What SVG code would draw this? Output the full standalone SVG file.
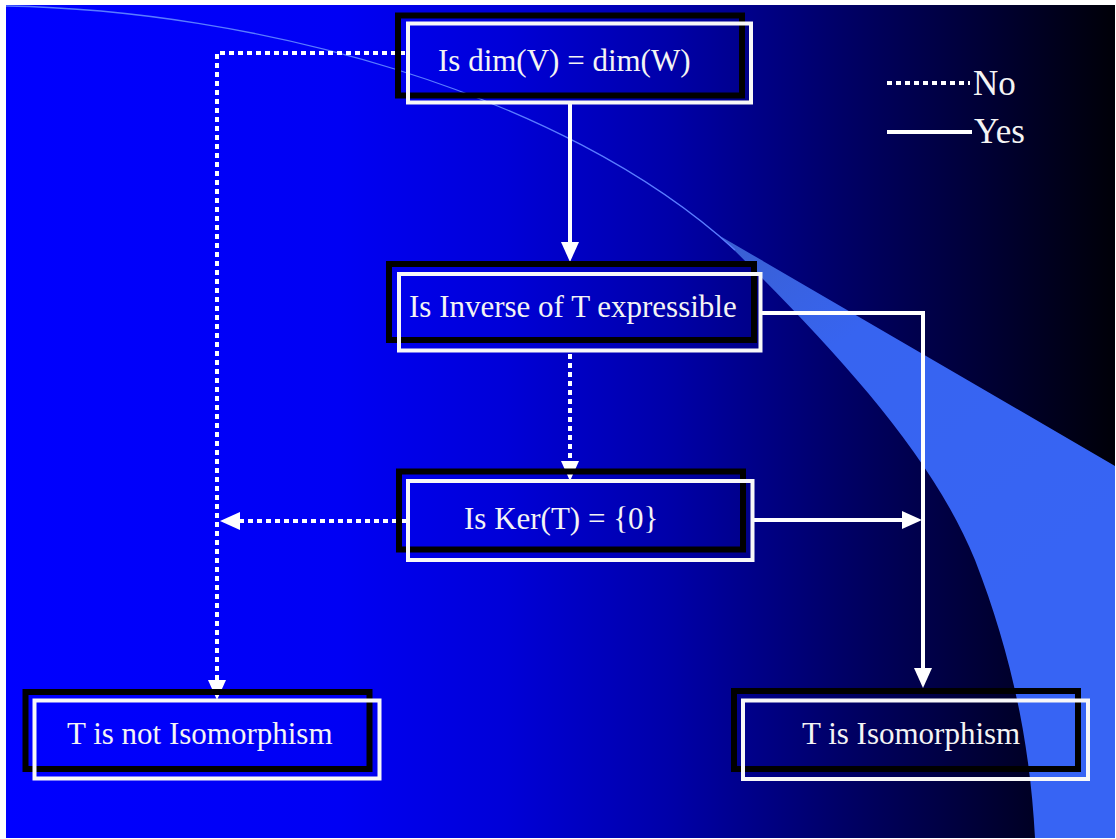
<svg xmlns="http://www.w3.org/2000/svg" width="1116" height="839" viewBox="0 0 1116 839">
  <defs>
    <linearGradient id="bg" gradientUnits="userSpaceOnUse" x1="6" y1="0" x2="1115" y2="0">
      <stop offset="0" stop-color="#0000ff"/>
      <stop offset="0.3" stop-color="#0000f4"/>
      <stop offset="0.45" stop-color="#0000d8"/>
      <stop offset="0.6" stop-color="#0000a8"/>
      <stop offset="0.75" stop-color="#000068"/>
      <stop offset="0.88" stop-color="#000036"/>
      <stop offset="1" stop-color="#000008"/>
    </linearGradient>
    <linearGradient id="wedge" gradientUnits="userSpaceOnUse" x1="715" y1="235" x2="1000" y2="600">
      <stop offset="0" stop-color="#3a5fd0"/>
      <stop offset="0.35" stop-color="#3764f0"/>
      <stop offset="1" stop-color="#3764f4"/>
    </linearGradient>
    <marker id="ah" viewBox="0 0 20 18" refX="0" refY="9" markerWidth="20" markerHeight="18" markerUnits="userSpaceOnUse" orient="auto">
      <path d="M0,0 L20,9 L0,18 Z" fill="#ffffff"/>
    </marker>
    <style>
      .shadow { fill: none; stroke: #000000; stroke-width: 6; }
      .frame { fill: none; stroke: #f8f8f8; stroke-width: 4; }
      .lbl { font-family: "Liberation Serif", "Times New Roman", serif; font-size: 31px; fill: #f4f4f4; }
      .leg { font-family: "Liberation Serif", "Times New Roman", serif; font-size: 35px; fill: #f4f4f4; }
      .solid { fill: none; stroke: #ffffff; stroke-width: 4; }
      .dot { fill: none; stroke: #ffffff; stroke-width: 4; stroke-dasharray: 5 4; }
    </style>
  </defs>

  <g id="background">
    <rect x="0" y="0" width="1116" height="839" fill="#ffffff"/>
    <rect x="6" y="5" width="1109" height="833" fill="url(#bg)"/>
    <path d="M720,236 C830,345 930,450 975,560 C1010,650 1030,740 1035,838 L1115,838 L1115,466 Z" fill="url(#wedge)"/>
    <path d="M6,6 C250,10 560,90 735,250" fill="none" stroke="#5a7cff" stroke-width="1.3"/>
  </g>

  <g id="connectors">
    <path class="solid" d="M570,103 V242" marker-end="url(#ah)"/>
    <path class="dot" d="M405,53 H217 V680" marker-end="url(#ah)"/>
    <path class="dot" d="M570,354 V461" marker-end="url(#ah)"/>
    <path class="dot" d="M406,521 H240" marker-end="url(#ah)"/>
    <path class="solid" d="M754,520 H902" marker-end="url(#ah)"/>
    <path class="solid" d="M762,313 H923 V668" marker-end="url(#ah)"/>
  </g>

  <g id="legend">
    <path class="dot" d="M887,83 H970"/>
    <text class="leg" x="973" y="95">No</text>
    <path class="solid" d="M887,132 H972"/>
    <text class="leg" x="974" y="143">Yes</text>
  </g>

  <g id="node-dim">
    <rect class="shadow" x="398" y="15.5" width="344" height="80"/>
    <rect class="frame" x="408" y="23.5" width="343" height="79"/>
    <text class="lbl" x="438" y="71">Is dim(V) = dim(W)</text>
  </g>

  <g id="node-inverse">
    <rect class="shadow" x="389" y="264" width="365" height="76"/>
    <rect class="frame" x="399" y="274" width="361.5" height="76.5"/>
    <text class="lbl" x="409" y="317">Is Inverse of T expressible</text>
  </g>

  <g id="node-ker">
    <rect class="shadow" x="399" y="471.5" width="344" height="78"/>
    <rect class="frame" x="408" y="481" width="344.5" height="79"/>
    <text class="lbl" x="464" y="529">Is Ker(T) = {0}</text>
  </g>

  <g id="node-not-iso">
    <rect class="shadow" x="25.5" y="692" width="344" height="77"/>
    <rect class="frame" x="34.5" y="700.5" width="345" height="78"/>
    <text class="lbl" x="67" y="744">T is not Isomorphism</text>
  </g>

  <g id="node-iso">
    <rect class="shadow" x="734" y="691" width="344" height="78"/>
    <rect class="frame" x="743" y="700.5" width="345" height="78.5"/>
    <text class="lbl" x="802" y="744">T is Isomorphism</text>
  </g>
</svg>
